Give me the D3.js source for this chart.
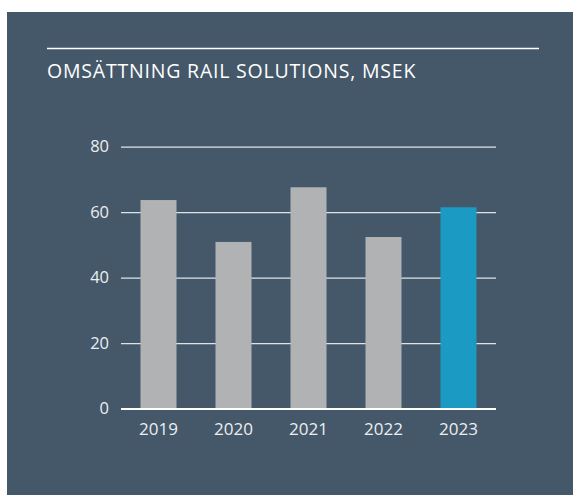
<!DOCTYPE html>
<html lang="sv">
<head>
    <meta charset="UTF-8">
    <title>Omsättning Rail Solutions</title>
    <script src="https://d3js.org/d3.v7.min.js"></script>
    <style>
        body { margin: 0; background: #fff; }
        text { font-family: "Open Sans", sans-serif; }
    </style>
</head>
<body>
<script>
    // data
    var years = ["2019", "2020", "2021", "2022", "2023"];
    var revenue = [63.7, 50.9, 67.6, 52.4, 61.5];
    var yTicks = [0, 20, 40, 60, 80];
    var title = "OMSÄTTNING RAIL SOLUTIONS, MSEK";

    var width = 573, height = 495;
    var svg = d3.select("body").append("svg")
        .attr("width", width)
        .attr("height", height);

    // dark panel
    svg.append("rect")
        .attr("x", 7).attr("y", 12)
        .attr("width", width - 7).attr("height", height - 12)
        .attr("fill", "#44586a");

    svg.append("line")
        .attr("x1", 47).attr("x2", 539)
        .attr("y1", 48.5).attr("y2", 48.5)
        .attr("stroke", "#ffffff").attr("stroke-width", 1.5);

    svg.append("text")
        .attr("x", 47).attr("y", 78)
        .attr("fill", "#ffffff")
        .attr("font-size", 19.5)
        .attr("letter-spacing", 0.8)
        .text(title);

    var x = d3.scaleBand()
        .domain(years)
        .range([121, 496])
        .paddingInner(0.52)
        .paddingOuter(0.26);

    var y = d3.scaleLinear()
        .domain([0, 80])
        .range([408.5, 146.7]);

    // gridlines + y labels
    var yAxis = svg.append("g")
        .attr("transform", "translate(121,0)")
        .call(d3.axisLeft(y).tickValues(yTicks).tickSize(-375).tickPadding(12));
    yAxis.select(".domain").remove();
    yAxis.selectAll(".tick line").attr("stroke", "#dfe3e7").attr("stroke-width", 1.2);
    yAxis.selectAll(".tick text").attr("fill", "#eceef0").attr("font-size", 16.5);

    svg.selectAll("rect.bar")
        .data(revenue)
        .enter().append("rect")
        .attr("class", "bar")
        .attr("x", function(d, i) { return x(years[i]); })
        .attr("width", x.bandwidth())
        .attr("y", function(d) { return y(d); })
        .attr("height", function(d) { return y(0) - y(d); })
        .attr("fill", function(d, i) { return i == years.length - 1 ? "#1b9ac3" : "#b1b2b4"; });

    // zero line
    svg.append("line")
        .attr("x1", 121).attr("x2", 496)
        .attr("y1", y(0) + 0.5).attr("y2", y(0) + 0.5)
        .attr("stroke", "#ffffff").attr("stroke-width", 2);

    var xAxis = svg.append("g")
        .attr("transform", "translate(0," + y(0) + ")")
        .call(d3.axisBottom(x).tickSize(0).tickPadding(14));
    xAxis.select(".domain").remove();
    xAxis.selectAll(".tick text").attr("fill", "#eceef0").attr("font-size", 17);
</script>
</body>
</html>
